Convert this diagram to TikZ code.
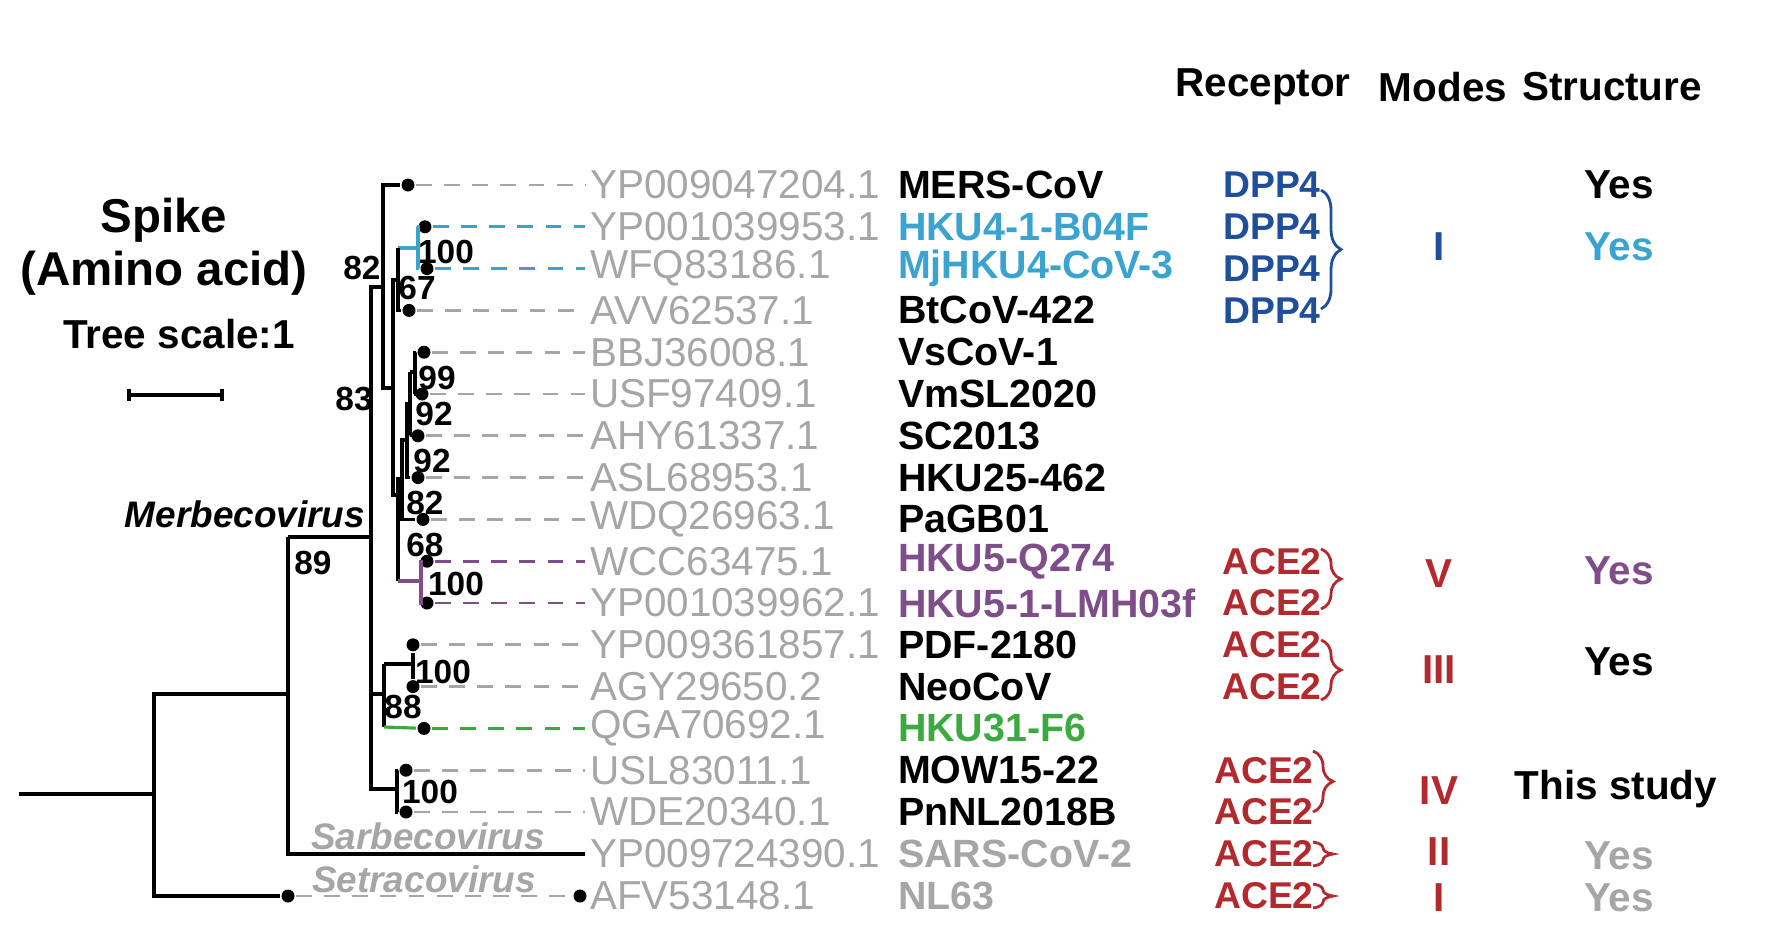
\documentclass[tikz,border=0pt]{standalone}
\usepackage{fontspec}
\setmainfont{Liberation Sans}
\usetikzlibrary{decorations.pathreplacing}
\definecolor{cgray}{HTML}{A6A6A6}
\definecolor{cblue}{HTML}{3BA3D0}
\definecolor{cdpp}{HTML}{1F4E9A}
\definecolor{cred}{HTML}{B22A2E}
\definecolor{cpur}{HTML}{7E4D8A}
\definecolor{cgreen}{HTML}{3DAA3F}
\tikzset{
  acc/.style={anchor=west,inner sep=1pt,text=cgray,font=\fontsize{11.5}{13}\selectfont},
  nm/.style={anchor=west,inner sep=1pt,font=\fontsize{11.2}{13}\selectfont\bfseries},
  rec/.style={inner sep=1pt,font=\fontsize{10.6}{12}\selectfont\bfseries},
  head/.style={inner sep=1pt,font=\fontsize{11.5}{14}\selectfont\bfseries},
  boot/.style={inner sep=0pt,font=\fontsize{9.5}{11}\selectfont\bfseries},
  clade/.style={inner sep=0pt,font=\fontsize{10.5}{12}\selectfont\bfseries\itshape},
  brc/.style={decorate,decoration={brace,amplitude=0.2cm},line width=0.8pt},
  dot/.style={circle,fill=black,inner sep=0pt,minimum size=0.13cm},
  lf/.style={dashed,dash pattern=on 4.5pt off 3.5pt,line width=0.8pt}
}
\begin{document}
\begin{tikzpicture}[x=0.01cm,y=-0.01cm,line width=0.9pt]
\useasboundingbox (0,0) rectangle (1779,939);
% Kopf
\node[head] (hrec) at (1263,87) {Receptor};
\node[head] (hmod) at (1443,87) {Modes};
\node[head] (hstr) at (1612,87) {Structure};
\node[head,font=\fontsize{13.5}{16}\selectfont\bfseries] (spike) at (164,220) {Spike};
\node[head,font=\fontsize{13.5}{16}\selectfont\bfseries] (amino) at (164,273) {(Amino acid)};
\node[head] (tscale) at (179,334) {Tree scale:1};
\draw (129,395) -- (222,395) (129,389) -- (129,401) (222,389) -- (222,401) (175,393) -- (175,397);
% Blaetter
\foreach \i/\acc/\nm/\col/\dc/\dx in {
  1/YP009047204.1/MERS-CoV/black/cgray/408,
  2/YP001039953.1/HKU4-1-B04F/cblue/cblue/425,
  3/WFQ83186.1/MjHKU4-CoV-3/cblue/cblue/427,
  4/AVV62537.1/BtCoV-422/black/cgray/409,
  5/BBJ36008.1/VsCoV-1/black/cgray/424,
  6/USF97409.1/VmSL2020/black/cgray/422,
  7/AHY61337.1/SC2013/black/cgray/418,
  8/ASL68953.1/HKU25-462/black/cgray/418,
  9/WDQ26963.1/PaGB01/black/cgray/423,
  10/WCC63475.1/HKU5-Q274/cpur/cpur/427,
  11/YP001039962.1/HKU5-1-LMH03f/cpur/cpur/427,
  12/YP009361857.1/PDF-2180/black/cgray/413,
  13/AGY29650.2/NeoCoV/black/cgray/413,
  14/QGA70692.1/HKU31-F6/cgreen/cgreen/424,
  15/USL83011.1/MOW15-22/black/cgray/406,
  16/WDE20340.1/PnNL2018B/black/cgray/406}{
  \pgfmathsetmacro\y{185+(\i-1)*41.8}
  \node[acc] (a\i) at (585,\y) {\acc};
  \node[nm,text=\col] (n\i) at (893,\y) {\nm};
  \node[dot] (d\i) at (\dx,\y) {};
  \draw[\dc,lf] (d\i) -- (a\i.west);
}
\node[acc] (a17) at (585,854) {YP009724390.1};
\node[nm,text=cgray] (n17) at (893,854) {SARS-CoV-2};
\node[acc] (a18) at (585,896) {AFV53148.1};
\node[nm,text=cgray] (n18) at (893,896) {NL63};
\node[dot] (d18) at (580,896) {};
\node[dot] (s18) at (288,896) {};
\draw[cgray,lf] (s18) -- (d18);
% Aeste
\coordinate (nM) at (371,537);
\draw (19,794) -- (154,794);
\draw (s18) -| (154,694) -- (288,694);
\draw (288,537) -- (288,854) -- (a17.west);
\draw (288,537) -- (nM);
\draw (383,287) -- (371,287) -- (371,789) -- (397,789);
\draw (371,694) -- (384,694);
\draw (d1) -| (383,388) -- (393,388);
\draw (398,280) -| (393,495) -- (398,495);
\draw[cblue] (d2) -| (418,248);
\draw[cblue] (d3) -| (418,248) -- (398,248);
\draw (398,248) |- (d4);
\draw (d5) -| (415,372);
\draw (d6) -| (415,372) -- (410,372);
\draw (410,372) |- (d7);
\draw (410,404) -- (407,404) |- (d8);
\draw (407,440) -- (402,440) |- (d9);
\draw (402,479) -- (398,479) -- (398,581);
\draw[cpur] (398,581) -- (421,581);
\draw[cpur] (d10) -| (421,581);
\draw[cpur] (d11) -| (421,581);
\draw (384,664) -- (384,727);
\draw (384,664) -- (413,664);
\draw (d12) -- (d13);
\draw[cgreen] (384,727) -- (d14);
\draw (d15) -| (397,789);
\draw (d16) -| (397,789);
% Beschriftungen
\node[boot] (b1) at (362,268) {82};
\node[boot] (b2) at (446,252) {100};
\node[boot] (b3) at (417,288) {67};
\node[boot] (b4) at (354,399) {83};
\node[boot] (b5) at (437,378) {99};
\node[boot] (b6) at (434,414) {92};
\node[boot] (b7) at (432,461) {92};
\node[boot] (b8) at (425,503) {82};
\node[boot] (b9) at (425,545) {68};
\node[boot] (b10) at (456,584) {100};
\node[boot] (b11) at (313,563) {89};
\node[boot] (b12) at (443,672) {100};
\node[boot] (b13) at (403,707) {88};
\node[boot] (b14) at (430,792) {100};
\node[clade] (merb) at (245,514) {Merbecovirus};
\node[clade,text=cgray] (sarb) at (428,836) {Sarbecovirus};
\node[clade,text=cgray] (setr) at (424,879) {Setracovirus};
% Rezeptoren
\foreach \i in {1,...,4}{
  \node[rec,text=cdpp] (r\i) at (1272,{185+(\i-1)*41.8}) {DPP4};
}
\foreach \i in {10,...,13}{
  \node[rec,text=cred] (r\i) at (1272,{185+(\i-1)*41.8}) {ACE2};
}
\foreach \i in {15,...,18}{
  \node[rec,text=cred] (r\i) at (1264,{185+(\i-1)*41.8}) {ACE2};
}
\draw[brc,cdpp] (1321,190) -- (1321,309);
\draw[brc,cred] (1321,549) -- (1321,609);
\draw[brc,cred] (1321,640) -- (1321,700);
\draw[brc,cred] (1313,751) -- (1313,812);
\draw[brc,cred] (1313,842) -- (1313,866);
\draw[brc,cred] (1313,884) -- (1313,908);
% Modi
\node[head,text=cdpp] (m1) at (1439,247) {I};
\node[head,text=cred] (m2) at (1439,574) {V};
\node[head,text=cred] (m3) at (1439,670) {III};
\node[head,text=cred] (m4) at (1439,791) {IV};
\node[head,text=cred] (m5) at (1439,852) {II};
\node[head,text=cred] (m6) at (1439,898) {I};
% Struktur
\node[head] (s1) at (1619,185) {Yes};
\node[head,text=cblue] (s2) at (1619,247) {Yes};
\node[head,text=cpur] (s3) at (1619,571) {Yes};
\node[head] (s4) at (1619,662) {Yes};
\node[head] (s5) at (1616,789) {This study};
\node[head,text=cgray] (s6) at (1619,856) {Yes};
\node[head,text=cgray] (s7) at (1619,898) {Yes};
\end{tikzpicture}
\end{document}
